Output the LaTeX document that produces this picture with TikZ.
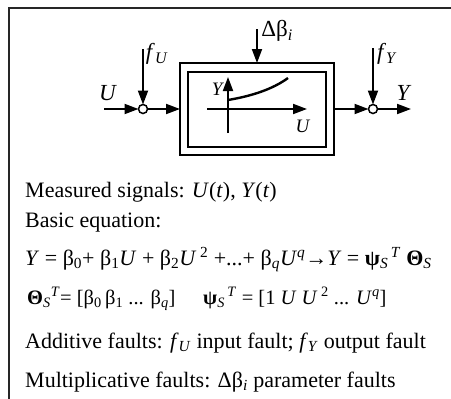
\documentclass[tikz,border=0pt]{standalone}
\usepackage{fontspec}
\setmainfont{Liberation Serif}
\usetikzlibrary{arrows.meta}
\newcommand\sbx[1]{\textsubscript{#1}}
\newcommand\spx[1]{\textsuperscript{#1}}
\newcommand\bpsi{\textbf{ψ}}
\newcommand\bTheta{\textbf{Θ}}
\begin{document}
\begin{tikzpicture}[x=1pt,y=-1pt,
  sig/.style={line width=1.9pt,-{Triangle[length=14pt,width=10pt]}},
  boxline/.style={draw,line width=2.2pt,inner sep=0pt,outer sep=0pt},
  junction/.style={circle,draw,fill=white,minimum size=9pt,inner sep=0pt,outer sep=0pt,line width=1.5pt},
  lbl/.style={inner sep=0pt,font=\fontsize{23}{27}\selectfont},
  smalllbl/.style={inner sep=0pt,font=\fontsize{19}{23}\selectfont},
  txt/.style={anchor=base west,inner sep=0pt,font=\fontsize{22}{26}\selectfont},
  eqtxt/.style={anchor=base west,inner sep=0pt,font=\fontsize{20.5}{25}\selectfont}]
\useasboundingbox (0,0) rectangle (451,399);
% frame
\coordinate (fr0) at (9,399);
\coordinate (fr1) at (9,8);
\coordinate (fr2) at (452,8);
\draw[line width=1.4pt,black!85] (fr0) -- (fr1) -- (fr2);
% blocks
\node[boxline,minimum width=154pt,minimum height=92pt] (outer) at (257,109) {};
\node[boxline,minimum width=138pt,minimum height=75pt] (inner) at (257,109.5) {};
\node[junction] (c1) at (143,109) {};
\node[junction] (c2) at (373,109) {};
\coordinate (uin) at (104,109);
\coordinate (fu) at (143,49);
\coordinate (db) at (257,29);
\coordinate (fy) at (373,48);
\coordinate (yout) at (411,109);
\draw[sig] (uin) -- (c1);
\draw[sig] (fu) -- (c1);
\draw[sig] (c1) -- (outer.west);
\draw[sig] (db) -- (outer.north);
\draw[sig] (outer.east) -- (c2);
\draw[sig] (fy) -- (c2);
\draw[sig] (c2) -- (yout);
% inner graph
\coordinate (ax0) at (228,133);
\coordinate (ax1) at (228,77);
\coordinate (bx0) at (207,109);
\coordinate (bx1) at (307,109);
\coordinate (cv0) at (228,100);
\coordinate (cvA) at (252,96);
\coordinate (cvB) at (273,89);
\coordinate (cv1) at (288,78);
\draw[sig] (ax0) -- (ax1);
\draw[sig] (bx0) -- (bx1);
\draw[line width=2.4pt] (cv0) .. controls (cvA) and (cvB) .. (cv1);
% labels
\node[lbl] (lU) at (108,93) {\textit{U}};
\node[lbl] (lY) at (404,93) {\textit{Y}};
\node[lbl] (lfU) at (157,54) {\textit{f}\sbx{\textit{U}}};
\node[lbl] (lfY) at (387,54) {\textit{f}\sbx{\textit{Y}}};
\node[lbl] (ldb) at (277,31) {Δβ\sbx{\textit{i}}};
\node[smalllbl] (liY) at (218,89) {\textit{Y}};
\node[smalllbl] (liU) at (303,126) {\textit{U}};
% text
\node[txt] (t1) at (25,197) {Measured signals: \textit{U}(\textit{t}), \textit{Y}(\textit{t})};
\node[txt] (t2) at (25,227) {Basic equation:};
\node[txt] (t3) at (25,265) {\textit{Y} = β\sbx{0}+ β\sbx{1}\textit{U} + β\sbx{2}\textit{U}\,\spx{2} +...+ β\sbx{\textit{q}}\textit{U}\spx{\textit{q}}→\textit{Y} = \bpsi\sbx{\textit{S}}\spx{\,\textit{T}} \bTheta\sbx{\textit{S}}};
\node[eqtxt] (t4) at (27,304) {\bTheta\sbx{\textit{S}}\spx{\textit{T}}= [β\sbx{0}\,β\sbx{1} ... β\sbx{\textit{q}}]};
\node[eqtxt] (t5) at (203,304) {\bpsi\sbx{\textit{S}}\spx{\,\textit{T}} = [1 \textit{U} \textit{U}\,\spx{2} ... \textit{U}\spx{\textit{q}}]};
\node[txt] (t6) at (25,348) {Additive faults: \textit{f}\sbx{\textit{U}} input fault; \textit{f}\sbx{\textit{Y}} output fault};
\node[txt] (t7) at (25,387) {Multiplicative faults: Δβ\sbx{\textit{i}} parameter faults};
\end{tikzpicture}
\end{document}
